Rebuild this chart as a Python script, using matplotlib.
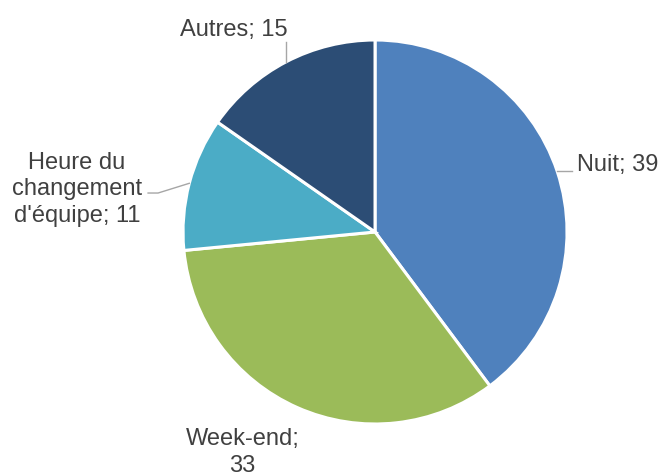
import numpy as np
import matplotlib
matplotlib.use("Agg")
import matplotlib.pyplot as plt

categories = ["Nuit", "Week-end", "Heure du\nchangement\nd'équipe", "Autres"]
values = [39, 33, 11, 15]
colors = ["#4F81BD", "#9BBB59", "#4BACC6", "#2C4D75"]

plt.rcParams['font.family'] = ['Liberation Sans', 'DejaVu Sans']
txt_color = "#404040"
line_color = "#A6A6A6"

fig = plt.figure(figsize=(6.61, 4.73), dpi=100)
ax = fig.add_axes([0.2769, 0.1036, 384/661, 384/473])
wedges, _ = ax.pie(values, colors=colors, startangle=90, counterclock=False,
                   wedgeprops=dict(edgecolor="white", linewidth=2.2))
ax.set_xlim(-1, 1)
ax.set_ylim(-1, 1)
ax.set_aspect('equal')
ax.axis('off')

fs = 17
labels = [f"{c}; {v}" for c, v in zip(categories, values)]
labels[1] = f"Week-end;\n{values[1]}"

def mid_angle(w):
    return np.deg2rad((w.theta1 + w.theta2) / 2)

# Nuit
a = mid_angle(wedges[0])
ex, ey = np.cos(a), np.sin(a)
ax.plot([ex, 1.026], [ey, ey], color=line_color, lw=1, clip_on=False)
ax.text(1.050, 0.318, labels[0], ha='left', va='baseline', fontsize=fs, color=txt_color)

# Week-end
ax.text(-0.690, -1.25, labels[1], ha='center', va='baseline', fontsize=fs,
        color=txt_color, multialignment='center', linespacing=1.27)

# Heure du changement d'équipe
a = mid_angle(wedges[2])
ex, ey = np.cos(a), np.sin(a)
ax.plot([ex, -1.130, -1.182], [ey, 0.203, 0.203], color=line_color, lw=1, clip_on=False)
ax.text(-1.552, 0.052, labels[2], ha='center', va='baseline', fontsize=fs,
        color=txt_color, multialignment='center', linespacing=1.27)

# Autres
a = mid_angle(wedges[3])
ex, ey = np.cos(a), np.sin(a)
ax.plot([ex, ex], [ey, 0.990], color=line_color, lw=1, clip_on=False)
ax.text(-0.734, 1.021, labels[3], ha='center', va='baseline', fontsize=fs, color=txt_color)

fig.savefig("out.png", dpi=100)
